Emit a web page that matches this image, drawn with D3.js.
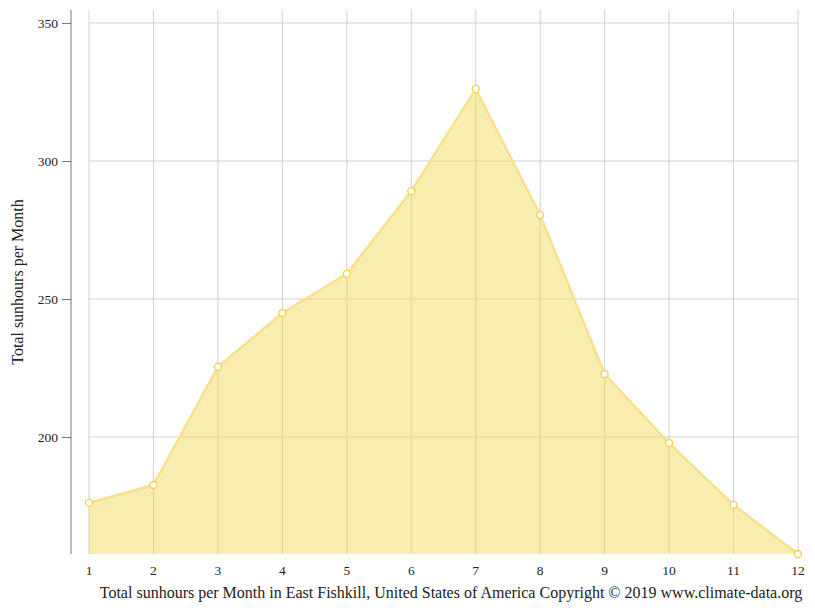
<!DOCTYPE html>
<html>
<head>
<meta charset="utf-8">
<script src="https://cdn.jsdelivr.net/npm/d3@7"></script>
<style>
  body { margin: 0; background: #fff; }
  text { font-family: "Liberation Serif", "Times New Roman", serif; fill: #222; }
</style>
</head>
<body>
<div id="chart"></div>
<script>
// months and sunhours
var months = [1, 2, 3, 4, 5, 6, 7, 8, 9, 10, 11, 12];
var sunhours = [176.1, 182.6, 225.4, 244.9, 259.1, 289.1, 326.1, 280.4, 222.8, 197.8, 175.4, 157.6];
var yTicks = [200, 250, 300, 350];

var width = 815;
var height = 611;
var margin = { top: 10, right: 17, bottom: 57, left: 89 };

var xScale = d3.scaleLinear()
    .domain([1, 12])
    .range([margin.left, width - margin.right]);

var yScale = d3.scaleLinear()
    .domain([157.6, 354.7])
    .range([height - margin.bottom, margin.top]);

var svg = d3.select("#chart").append("svg")
    .attr("width", width)
    .attr("height", height);

// grid
svg.append("g").selectAll("line")
    .data(months)
    .enter().append("line")
    .attr("x1", d => xScale(d)).attr("x2", d => xScale(d))
    .attr("y1", margin.top).attr("y2", height - margin.bottom)
    .attr("stroke", "#d2d2d2").attr("stroke-width", 1);

svg.append("g").selectAll("line")
    .data(yTicks)
    .enter().append("line")
    .attr("x1", xScale(1)).attr("x2", xScale(12))
    .attr("y1", d => yScale(d)).attr("y2", d => yScale(d))
    .attr("stroke", "#d2d2d2").attr("stroke-width", 1);

// area
var area = d3.area()
    .x((d, i) => xScale(months[i]))
    .y0(yScale(157.6))
    .y1(d => yScale(d));

svg.append("path")
    .datum(sunhours)
    .attr("d", area)
    .attr("fill", "rgba(245,215,80,0.45)");

var line = d3.line()
    .x((d, i) => xScale(months[i]))
    .y(d => yScale(d));

svg.append("path")
    .datum(sunhours)
    .attr("d", line)
    .attr("fill", "none")
    .attr("stroke", "#f8e08c")
    .attr("stroke-width", 2.5);

svg.append("g").selectAll("circle")
    .data(sunhours)
    .enter().append("circle")
    .attr("cx", (d, i) => xScale(months[i]))
    .attr("cy", d => yScale(d))
    .attr("r", 3.5)
    .attr("fill", "#fff")
    .attr("stroke", "#f5d140")
    .attr("stroke-width", 1.3);

// y axis
var yAxis = d3.axisLeft(yScale).tickValues(yTicks).tickSize(9).tickPadding(4);
var yg = svg.append("g")
    .attr("transform", "translate(71,0)")
    .call(yAxis);
yg.select(".domain").attr("stroke", "#777").attr("d", "M0," + margin.top + "V" + (height - margin.bottom));
yg.selectAll(".tick line").attr("stroke", "#777");
yg.selectAll("text").style("font-size", "13.5px").attr("fill", "#222");

// x labels
svg.append("g").selectAll("text")
    .data(months)
    .enter().append("text")
    .attr("x", d => xScale(d))
    .attr("y", 575)
    .attr("text-anchor", "middle")
    .style("font-size", "13.5px")
    .text(d => d);

svg.append("text")
    .attr("x", 451)
    .attr("y", 598)
    .attr("text-anchor", "middle")
    .style("font-size", "16px")
    .text("Total sunhours per Month in East Fishkill, United States of America Copyright © 2019 www.climate-data.org");

svg.append("text")
    .attr("transform", "translate(23,282) rotate(-90)")
    .attr("text-anchor", "middle")
    .style("font-size", "16px")
    .text("Total sunhours per Month");
</script>
</body>
</html>
